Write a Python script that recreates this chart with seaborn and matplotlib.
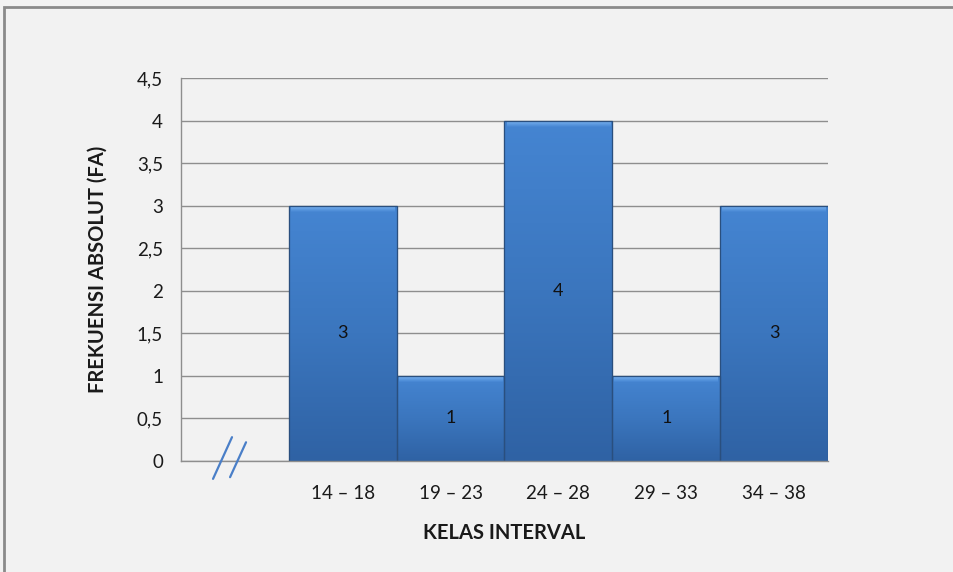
import numpy as np
import pandas as pd
import matplotlib
matplotlib.use("Agg")
import matplotlib.pyplot as plt
from matplotlib.colors import LinearSegmentedColormap
from matplotlib.patches import Rectangle
from matplotlib.ticker import FuncFormatter, FixedLocator
import seaborn as sns

# data
kelas = ['14 – 18', '19 – 23', '24 – 28', '29 – 33', '34 – 38']
frekuensi = [3, 1, 4, 1, 3]
slot_order = [''] + kelas  # empty first slot (axis break)

df = pd.DataFrame({'kelas': kelas, 'fa': frekuensi})

sns.set_theme(style="white")
plt.rcParams['font.family'] = ['Lato', 'DejaVu Sans']

bg = '#f2f2f2'
fig = plt.figure(figsize=(9.54, 5.72), dpi=100, facecolor=bg)
ax = fig.add_axes([181/954, 1 - 461/572, 647/954, 383/572])
ax.set_facecolor(bg)

sns.barplot(data=df, x='kelas', y='fa', order=slot_order, width=1.0,
            color='#3f7cc4', edgecolor='#2a4f7e', linewidth=0.8, ax=ax,
            zorder=3)

# gradient fill on each bar, Excel style
cmap = LinearSegmentedColormap.from_list('bar', ['#2f62a4', '#3b76be', '#4585d2'])
grad = np.linspace(0, 1, 256).reshape(-1, 1)
bevel = LinearSegmentedColormap.from_list('bev', ['#4585d2', '#79b2f0'])
for p in ax.patches:
    h = p.get_height()
    if not np.isfinite(h) or h == 0:
        continue
    x0, w = p.get_x(), p.get_width()
    im = ax.imshow(grad, cmap=cmap, origin='lower', aspect='auto',
                   extent=[x0, x0 + w, 0, h], zorder=3.5)
    im.set_clip_path(p)
    # light bevel at top
    bv = ax.imshow(grad, cmap=bevel, origin='lower', aspect='auto',
                   extent=[x0 + 0.02, x0 + w - 0.02, h - 0.07, h], zorder=3.6)
    bv.set_clip_path(p)
    ax.add_patch(Rectangle((x0, 0), w, h, facecolor='none',
                           edgecolor='#2a4f7e', linewidth=0.9, zorder=3.7))

# value labels in the middle of bars
for i, v in enumerate(frekuensi):
    ax.text(i + 1, v / 2, str(v), ha='center', va='center',
            fontsize=13, color='#111111', zorder=5)

ax.set_xlim(-0.5, 5.5)
ax.set_ylim(0, 4.5)
ax.set_yticks(np.arange(0, 4.51, 0.5))
ax.yaxis.set_major_formatter(FuncFormatter(
    lambda v, _: ('%g' % v).replace('.', ',')))
ax.grid(axis='y', color='#8e8e8e', linewidth=1.0, zorder=0)
ax.grid(axis='x', visible=False)

for s in ['top', 'right']:
    ax.spines[s].set_visible(False)
for s in ['left', 'bottom']:
    ax.spines[s].set_color('#8e8e8e')
    ax.spines[s].set_linewidth(1.0)
    ax.spines[s].set_zorder(4)

ax.tick_params(axis='y', which='major', length=7, width=1, color='#8e8e8e',
               pad=6, labelsize=13.5, labelcolor='#1a1a1a')
ax.tick_params(axis='x', which='major', length=0, pad=17,
               labelsize=13.5, labelcolor='#1a1a1a')
ax.xaxis.set_minor_locator(FixedLocator(np.arange(-0.5, 5.6, 1)))
ax.tick_params(axis='x', which='minor', length=7, width=1, color='#8e8e8e')

ax.set_xlabel('KELAS INTERVAL', fontsize=14.5, fontweight='bold', color='#1a1a1a')
ax.set_ylabel('FREKUENSI ABSOLUT (FA)', fontsize=14.5, fontweight='bold', color='#1a1a1a')
ax.xaxis.set_label_coords(0.5, -0.162)
ax.yaxis.set_label_coords(-0.113, 0.5)

# axis break marks "//"
ax.plot([-0.203, -0.027], [-0.21, 0.28], color='#4a7fc8', lw=1.6,
        clip_on=False, zorder=6)
ax.plot([-0.045, 0.103], [-0.19, 0.22], color='#4a7fc8', lw=1.6,
        clip_on=False, zorder=6)

# chart frame
fig.patches.append(Rectangle((4/954, -0.05), 1.2, 1 - 7/572 + 0.05,
                             transform=fig.transFigure, facecolor='none',
                             edgecolor='#8a8a8a', linewidth=2))

fig.savefig('out.png', dpi=100, facecolor=bg)
